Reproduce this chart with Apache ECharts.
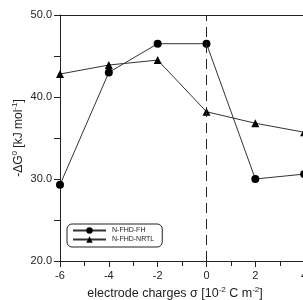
<!DOCTYPE html>
<html>
<head>
<meta charset="utf-8">
<script src="https://cdn.jsdelivr.net/npm/echarts@6/dist/echarts.min.js"></script>
<style>
  html, body { margin: 0; padding: 0; background: #fff; }
  #chart { width: 303px; height: 300px; }
</style>
</head>
<body>
<div id="chart"></div>
<script>
// electrode charge sigma [10^-2 C m^-2]
const charges = [-6, -4, -2, 0, 2, 4];
// -dG0 [kJ/mol]
const fhValues = [29.3, 43.0, 46.5, 46.5, 30.0, 30.6];
const nrtlValues = [42.8, 43.9, 44.5, 38.2, 36.8, 35.7];
const seriesNames = ['N-FHD-FH', 'N-FHD-NRTL'];

const font = 'Liberation Sans, Arial, sans-serif';
const chart = echarts.init(document.getElementById('chart'));

const pairs = (xs, ys) => xs.map((x, i) => [x, ys[i]]);

const option = {
  animation: false,
  backgroundColor: '#fff',
  // the original figure is cut off on the right, so the grid runs past the canvas
  grid: { left: 60, top: 15, bottom: 39, width: 293, outerBoundsMode: 'none' },
  legend: {
    orient: 'vertical',
    left: 67,
    top: 224,
    itemWidth: 33,
    itemHeight: 8,
    itemGap: 2,
    padding: [3, 8, 4, 5],
    borderColor: '#222',
    borderWidth: 1,
    borderRadius: 5,
    textStyle: { fontFamily: font, fontSize: 7, color: '#222', padding: [0, 0, 0, 1] },
    data: seriesNames
  },
  xAxis: [{
    type: 'value',
    min: -6, max: 6, interval: 2,
    axisLine: { onZero: false, lineStyle: { color: '#222', width: 1 } },
    axisTick: { length: 6, lineStyle: { color: '#222' } },
    minorTick: { show: true, splitNumber: 2, length: 5, lineStyle: { color: '#222' } },
    splitLine: { show: false },
    axisLabel: { fontFamily: font, fontSize: 11, color: '#222', margin: 9 }
  }, {
    type: 'value',
    position: 'top',
    min: -6, max: 6,
    axisLine: { show: true, onZero: false, lineStyle: { color: '#222', width: 1 } },
    axisTick: { show: false },
    axisLabel: { show: false },
    splitLine: { show: false }
  }],
  yAxis: {
    type: 'value',
    min: 20, max: 50, interval: 10,
    axisLine: { show: true, onZero: false, lineStyle: { color: '#222', width: 1 } },
    axisTick: { show: true, length: 6, lineStyle: { color: '#222' } },
    minorTick: { show: true, splitNumber: 2, length: 6, lineStyle: { color: '#222' } },
    splitLine: { show: false },
    axisLabel: {
      fontFamily: font, fontSize: 11, color: '#222', margin: 8,
      formatter: v => v.toFixed(1)
    }
  },
  graphic: [{
    type: 'text',
    x: 18, y: 138,
    rotation: Math.PI / 2,
    style: {
      text: '{b|-ΔG}{s|0}{b| [kJ mol}{s|-1}{b|]}',
      align: 'center', verticalAlign: 'middle',
      rich: {
        b: { fontFamily: font, fontSize: 12, fill: '#222', verticalAlign: 'bottom', lineHeight: 14 },
        s: { fontFamily: font, fontSize: 8, fill: '#222', verticalAlign: 'top', lineHeight: 14 }
      }
    }
  }, {
    type: 'text',
    x: 175, y: 293,
    style: {
      text: '{b|electrode charges σ [10}{s|-2}{b| C m}{s|-2}{b|]}',
      align: 'center', verticalAlign: 'middle',
      rich: {
        b: { fontFamily: font, fontSize: 12.5, fill: '#222', verticalAlign: 'bottom', lineHeight: 15 },
        s: { fontFamily: font, fontSize: 8, fill: '#222', verticalAlign: 'top', lineHeight: 15 }
      }
    }
  }],
  series: [{
    name: seriesNames[0],
    type: 'line',
    data: pairs(charges, fhValues),
    symbol: 'circle',
    symbolSize: 8,
    itemStyle: { color: '#000' },
    lineStyle: { color: '#333', width: 1 },
    markLine: {
      silent: true,
      symbol: 'none',
      label: { show: false },
      lineStyle: { color: '#222', width: 1, type: [10, 6] },
      data: [{ xAxis: 0 }]
    }
  }, {
    name: seriesNames[1],
    type: 'line',
    data: pairs(charges, nrtlValues),
    symbol: 'triangle',
    symbolSize: 8,
    itemStyle: { color: '#000' },
    lineStyle: { color: '#333', width: 1 }
  }]
};

chart.setOption(option);
</script>
</body>
</html>
